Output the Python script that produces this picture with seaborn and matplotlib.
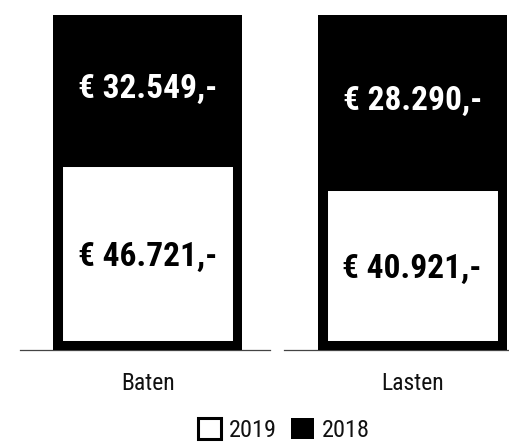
import matplotlib
matplotlib.use("Agg")
import matplotlib.pyplot as plt
import matplotlib.patches as mpatches
from matplotlib import font_manager
import seaborn as sns
import pandas as pd

categories = ["Baten", "Lasten"]
values_2019 = [46721, 40921]
values_2018 = [32549, 28290]
series_labels = ["2019", "2018"]
scale_2019_max = 81000

sns.set_theme(style="white")
names = {f.name for f in font_manager.fontManager.ttflist}
cands = ["Liberation Sans Narrow", "Roboto Condensed", "DejaVu Sans Condensed"]
fam = [c for c in cands if c in names] + ["DejaVu Sans"]
plt.rcParams["font.family"] = fam
stretch = "normal" if fam[0] != "DejaVu Sans" else "condensed"


def euro(v):
    return "€ " + f"{v:,}".replace(",", ".") + ",-"


fig = plt.figure(figsize=(5.09, 4.44), dpi=100)
W, H = 509, 444
lefts = [20, 284.3]
axw = 250
bottom = (H - 350) / H
height = 335 / H

for i, cat in enumerate(categories):
    ax = fig.add_axes([lefts[i] / W, bottom, axw / W, height])
    df18 = pd.DataFrame({"cat": [cat], "val": [values_2018[i]]})
    df19 = pd.DataFrame({"cat": [cat], "val": [values_2019[i]]})
    sns.barplot(data=df18, x="cat", y="val", ax=ax, color="black",
                saturation=1, width=0.8, linewidth=0)
    black_patch = ax.patches[0]
    ax.set_ylim(0, values_2018[i])

    ax2 = ax.twinx()
    sns.barplot(data=df19, x="cat", y="val", ax=ax2, color="white",
                saturation=1, width=0.8, edgecolor="black", linewidth=13.7)
    for p in ax2.patches:
        p.set_clip_path(black_patch)
    ax2.set_ylim(0, scale_2019_max)
    ax.set_xlim(-0.541, 0.517)

    for a in (ax, ax2):
        for s in a.spines.values():
            s.set_visible(False)
        a.set_yticks([])
        a.set_ylabel("")
        a.set_xlabel("")
    ax2.tick_params(axis="x", length=0, labelbottom=False)
    ax.spines["bottom"].set_visible(True)
    ax.spines["bottom"].set_color("#444444")
    ax.spines["bottom"].set_linewidth(0.9)
    ax.tick_params(axis="x", length=0, pad=16, labelsize=17)
    for t in ax.get_xticklabels():
        t.set_fontstretch(stretch)
        t.set_color("#111111")

    ax2.text(0, values_2019[i] / 2, euro(values_2019[i]), ha="center",
             va="center_baseline", fontsize=24, fontweight="bold",
             color="black", fontstretch=stretch)
    ax2.text(0, (values_2019[i] + scale_2019_max) / 2, euro(values_2018[i]),
             ha="center", va="center_baseline", fontsize=24,
             fontweight="bold", color="white", fontstretch=stretch)

handles = [
    mpatches.Patch(facecolor="white", edgecolor="black", linewidth=2.2,
                   label=series_labels[0]),
    mpatches.Patch(facecolor="black", edgecolor="black", linewidth=0,
                   label=series_labels[1]),
]
leg = fig.legend(handles=handles, loc="center", ncol=2,
                 bbox_to_anchor=(284 / W, 1 - 430 / H), frameon=False,
                 handlelength=0.95, handleheight=0.95,
                 handletextpad=0.3, columnspacing=0.6, borderpad=0,
                 prop={"stretch": stretch, "size": 17.5})
for t in leg.get_texts():
    t.set_color("#111111")

fig.savefig("out.png", dpi=100)
